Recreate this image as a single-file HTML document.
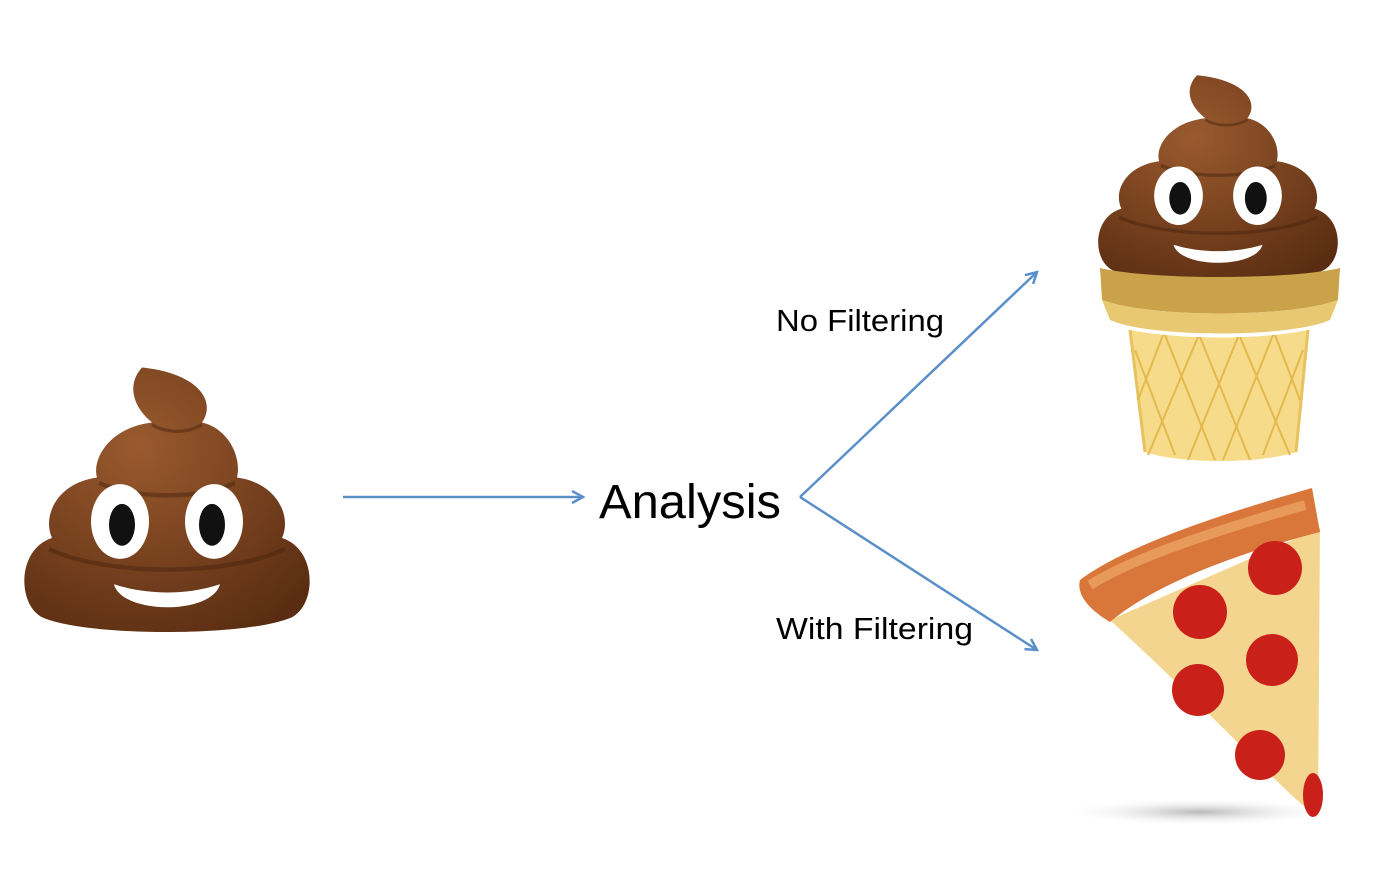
<!DOCTYPE html>
<html><head><style>
html,body{margin:0;padding:0;background:#fff;}
svg{display:block;}
text{font-family:"Liberation Sans",sans-serif;}
</style></head><body>
<svg width="1374" height="882" viewBox="0 0 1374 882" xmlns="http://www.w3.org/2000/svg">
<defs>
<marker id="ah" markerWidth="14" markerHeight="14" refX="12" refY="7" orient="auto" markerUnits="userSpaceOnUse">
<path d="M1,1 L12,7 L1,13" fill="none" stroke="#5b8fc9" stroke-width="2.5"/>
</marker>
<radialGradient id="br" cx="0.4" cy="0.3" r="0.8">
<stop offset="0" stop-color="#9a5a2e"/><stop offset="1" stop-color="#5a2d12"/>
</radialGradient>
<radialGradient id="sh" cx="0.5" cy="0.5" r="0.5">
<stop offset="0" stop-color="#999" stop-opacity="0.7"/><stop offset="1" stop-color="#fff" stop-opacity="0"/>
</radialGradient>
<g id="poop">
<path d="M-25,-145 C-40,-130 -35,-110 -15,-95 C-60,-90 -75,-60 -70,-45 C-110,-40 -125,-10 -115,10 C-150,20 -150,70 -125,82 C-80,100 80,100 125,82 C150,70 150,20 115,10 C125,-10 110,-40 70,-45 C75,-65 60,-90 35,-95 C50,-115 30,-140 -25,-145Z" fill="url(#br)"/>
<path d="M-118,20 C-60,45 60,45 118,20" fill="none" stroke="#4a230d" stroke-width="4" opacity="0.5"/>
<path d="M-68,-40 C-30,-25 30,-25 68,-40" fill="none" stroke="#4a230d" stroke-width="4" opacity="0.5"/>
<path d="M-15,-93 C0,-85 20,-85 35,-93" fill="none" stroke="#4a230d" stroke-width="3" opacity="0.5"/>
<ellipse cx="-47" cy="-5" rx="29" ry="34" fill="#fff"/>
<ellipse cx="47" cy="-5" rx="29" ry="34" fill="#fff"/>
<ellipse cx="-45" cy="-2" rx="13" ry="19" fill="#111"/>
<ellipse cx="45" cy="-2" rx="13" ry="19" fill="#111"/>
<path d="M-53,52 C-20,62 20,62 53,52 C45,80 -45,80 -53,52Z" fill="#fff"/>
</g>
</defs>

<use href="#poop" transform="translate(167,527) scale(1,1.1)"/>
<use href="#poop" transform="translate(1218,200) scale(0.84,0.86)"/>

<!-- cone -->
<path d="M1100,268 C1150,280 1290,280 1340,268 L1338,300 C1290,318 1150,318 1102,300Z" fill="#c9a24a"/>
<path d="M1130,330 C1180,340 1260,340 1308,330 L1296,452 C1260,464 1180,464 1145,452Z" fill="#f6dc8a"/>
<path d="M1130,330 L1145,452 M1308,330 L1296,452" stroke="#e7c25e" stroke-width="3"/>
<g stroke="#e4b84c" stroke-width="2" fill="none">
<path d="M1135,350 L1175,455 M1165,335 L1215,460 M1200,337 L1250,460 M1240,337 L1290,455 M1275,335 L1300,400"/>
<path d="M1303,350 L1263,455 M1273,335 L1223,460 M1238,337 L1188,460 M1198,337 L1148,455 M1163,335 L1138,400"/>
</g>
<path d="M1102,300 C1150,318 1290,318 1338,300 L1330,320 C1290,338 1150,338 1110,320Z" fill="#e8c870"/>

<!-- pizza -->
<ellipse cx="1200" cy="812" rx="140" ry="14" fill="url(#sh)"/>
<path d="M1110,620 L1320,528 L1318,815 C1300,810 1240,740 1110,620Z" fill="#f3d58f"/>
<path d="M1080,580 C1120,550 1200,520 1312,488 L1320,532 C1250,550 1160,580 1110,622 C1090,610 1076,595 1080,580Z" fill="#d9763a"/>
<path d="M1090,585 C1130,560 1200,535 1305,505" stroke="#e89a5a" stroke-width="10" fill="none"/>
<g fill="#c9201a">
<circle cx="1275" cy="568" r="27"/><circle cx="1200" cy="612" r="27"/>
<circle cx="1272" cy="660" r="26"/><circle cx="1198" cy="690" r="26"/>
<circle cx="1260" cy="755" r="25"/><ellipse cx="1313" cy="795" rx="10" ry="22"/>
</g>

<!-- connectors -->
<line x1="343" y1="497" x2="583" y2="497" stroke="#5b8fc9" stroke-width="2.5" marker-end="url(#ah)"/>
<line x1="800" y1="497" x2="1037" y2="272" stroke="#5b8fc9" stroke-width="2.5" marker-end="url(#ah)"/>
<line x1="800" y1="497" x2="1037" y2="650" stroke="#5b8fc9" stroke-width="2.5" marker-end="url(#ah)"/>

<text x="599" y="518" font-size="48" fill="#000" textLength="182" lengthAdjust="spacingAndGlyphs">Analysis</text>
<text x="776" y="331" font-size="31" fill="#000" textLength="168" lengthAdjust="spacingAndGlyphs">No Filtering</text>
<text x="776" y="639" font-size="31" fill="#000" textLength="197" lengthAdjust="spacingAndGlyphs">With Filtering</text>
</svg>
</body></html>
